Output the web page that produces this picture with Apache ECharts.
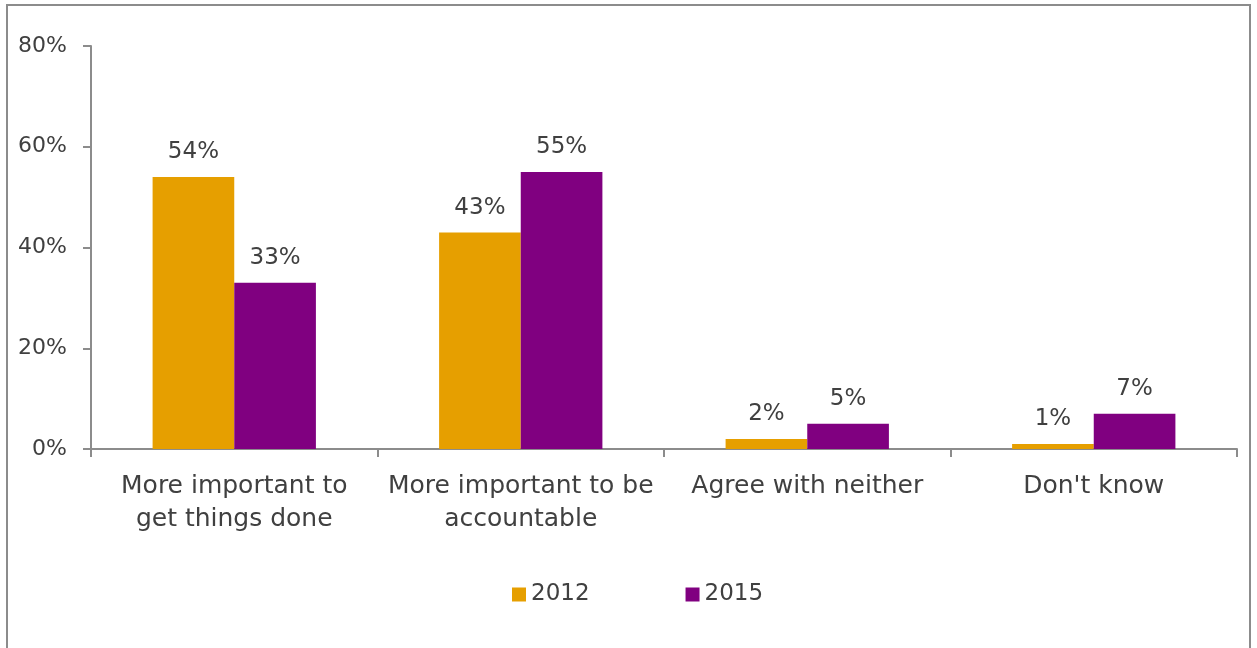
<!DOCTYPE html>
<html>
<head>
<meta charset="utf-8">
<script src="https://cdn.jsdelivr.net/npm/echarts@6/dist/echarts.min.js"></script>
<style>
  html, body { margin: 0; padding: 0; background: #fff; }
  #frame { position: absolute; left: 6px; top: 4px; width: 1245px; height: 700px; border: 2px solid #8c8c8c; box-sizing: border-box; }
  #chart { position: absolute; left: 0; top: 0; width: 1257px; height: 648px; }
</style>
</head>
<body>
<div id="frame"></div>
<div id="chart"></div>
<script>
  var categories = ['More important to\nget things done', 'More important to be\naccountable', 'Agree with neither', "Don't know"];
  var values2012 = [54, 43, 2, 1];
  var values2015 = [33, 55, 5, 7];
  var seriesNames = ['2012', '2015'];

  var txt = '#404040';
  var font = 'DejaVu Sans';
  var chart = echarts.init(document.getElementById('chart'));

  var labelOpt = {
    show: true, position: 'top', distance: 13,
    color: txt, fontFamily: font, fontSize: 23,
    formatter: function (p) { return p.value + '%'; }
  };

  chart.setOption({
    animation: false,
    textStyle: { fontFamily: font },
    color: ['#E69F00', '#800080'],
    grid: { left: 91, right: 20, top: 46, bottom: 199 },
    legend: {
      bottom: 37, left: 507,
      itemWidth: 14, itemHeight: 14, itemGap: 96,
      icon: 'rect',
      textStyle: { color: txt, fontSize: 23, fontFamily: font }
    },
    xAxis: {
      type: 'category',
      data: categories,
      axisLine: { lineStyle: { color: '#8c8c8c', width: 2 } },
      axisTick: { show: true, length: 8, lineStyle: { color: '#8c8c8c', width: 2 } },
      axisLabel: { color: txt, fontSize: 25, lineHeight: 33, margin: 21, interval: 0 }
    },
    yAxis: {
      type: 'value', min: 0, max: 80, interval: 20,
      splitLine: { show: false },
      axisLine: { show: true, lineStyle: { color: '#8c8c8c', width: 2 } },
      axisTick: { show: true, length: 8, lineStyle: { color: '#8c8c8c', width: 2 } },
      axisLabel: { color: txt, fontSize: 22, margin: 24, formatter: '{value}%' }
    },
    series: [
      { name: seriesNames[0], type: 'bar', data: values2012, barGap: '0%', barCategoryGap: '43%', label: labelOpt },
      { name: seriesNames[1], type: 'bar', data: values2015, barGap: '0%', barCategoryGap: '43%', label: labelOpt }
    ]
  });
</script>
</body>
</html>
